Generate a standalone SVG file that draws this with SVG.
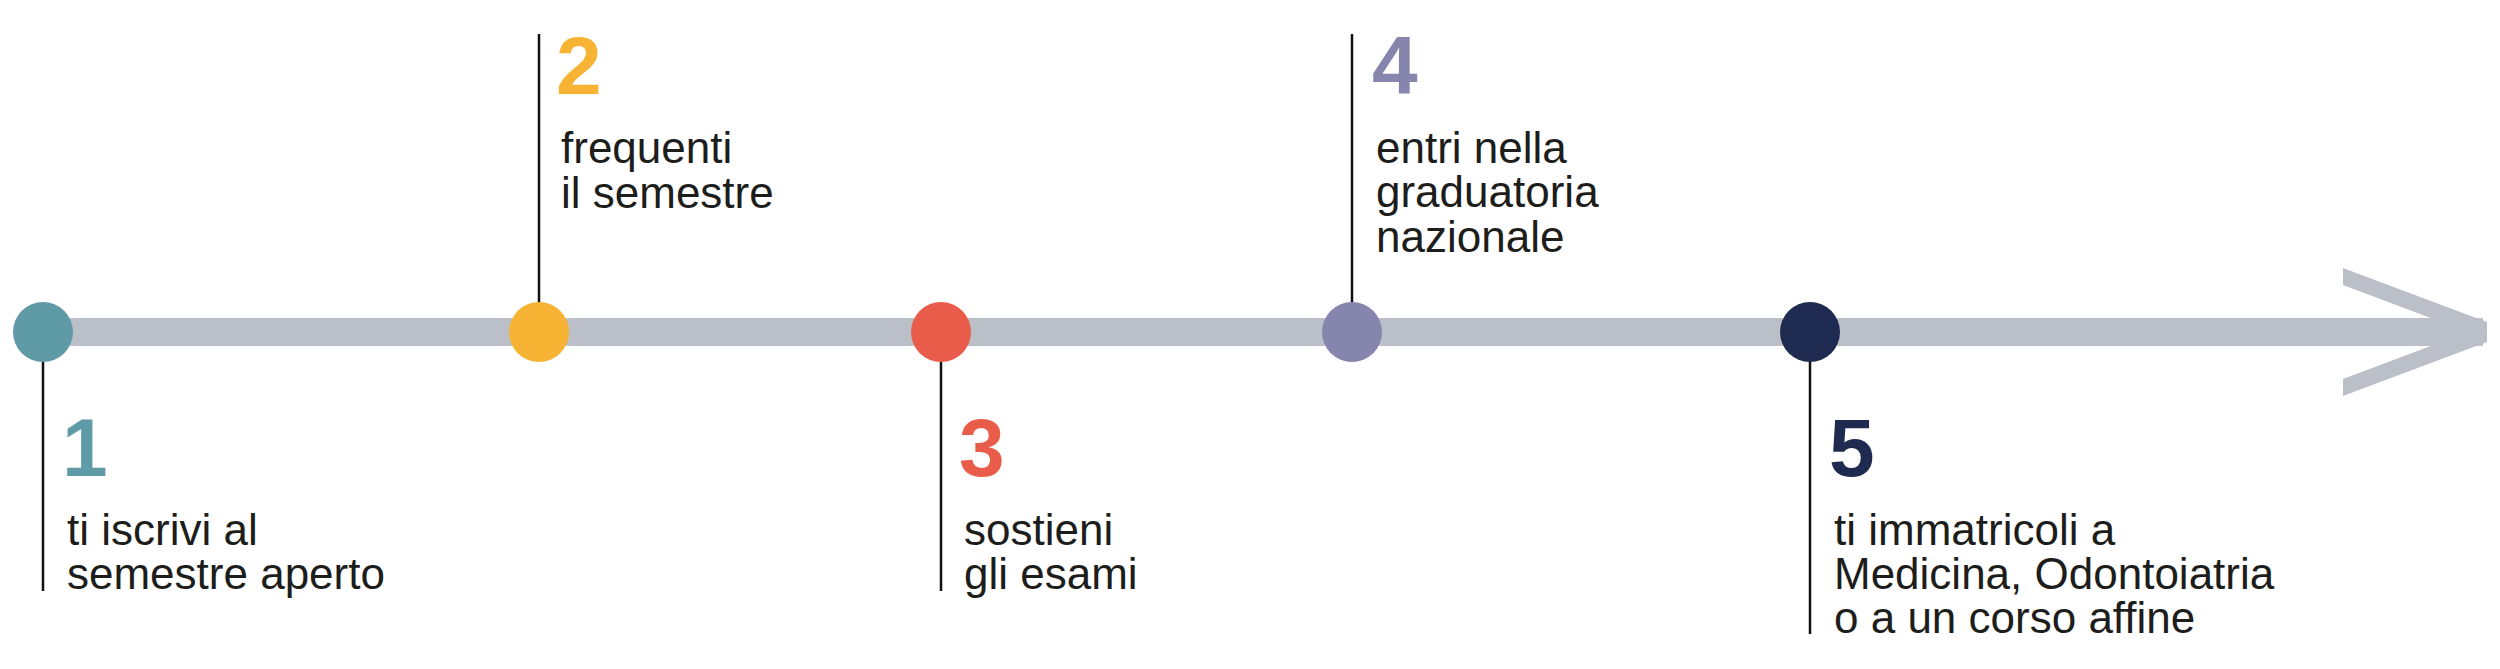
<svg xmlns="http://www.w3.org/2000/svg" width="2500" height="669" viewBox="0 0 2500 669">
<style>
.num{font-family:"Liberation Sans",Arial,sans-serif;font-weight:bold;font-size:82px}
.lbl{font-family:"Liberation Sans",Arial,sans-serif;font-size:44px;fill:#1d1d1b}
.pin{stroke:#111;stroke-width:2.5;fill:none}
.track{fill:#bbbfc8}
</style>
<rect width="2500" height="669" fill="#ffffff"/>
<g id="timeline">
<rect class="track" x="43" y="318" width="2440" height="28"/>
<polygon class="track" points="2343,268 2487,322 2487,342 2343,396 2343,379 2468,332 2343,285"/>
</g>
<g id="connectors">
<line class="pin" x1="43" y1="332" x2="43" y2="591"/>
<line class="pin" x1="539" y1="34" x2="539" y2="332"/>
<line class="pin" x1="941" y1="332" x2="941" y2="591"/>
<line class="pin" x1="1352" y1="34" x2="1352" y2="332"/>
<line class="pin" x1="1810" y1="332" x2="1810" y2="634"/>
</g>
<g id="step1">
<circle cx="43" cy="332" r="30" fill="#5f9ba6"/>
<text class="num" x="62" y="476" fill="#5f9ba6">1</text>
<text class="lbl" x="67" y="545">ti iscrivi al</text>
<text class="lbl" x="67" y="589">semestre aperto</text>
</g>
<g id="step2">
<circle cx="539" cy="332" r="30" fill="#f7b334"/>
<text class="num" x="556" y="94" fill="#f7b334">2</text>
<text class="lbl" x="561" y="163">frequenti</text>
<text class="lbl" x="561" y="208">il semestre</text>
</g>
<g id="step3">
<circle cx="941" cy="332" r="30" fill="#e95c4a"/>
<text class="num" x="959" y="476" fill="#e95c4a">3</text>
<text class="lbl" x="964" y="545">sostieni</text>
<text class="lbl" x="964" y="589">gli esami</text>
</g>
<g id="step4">
<circle cx="1352" cy="332" r="30" fill="#8585ae"/>
<text class="num" x="1372" y="93" fill="#8585ae">4</text>
<text class="lbl" x="1376" y="163">entri nella</text>
<text class="lbl" x="1376" y="207">graduatoria</text>
<text class="lbl" x="1376" y="252">nazionale</text>
</g>
<g id="step5">
<circle cx="1810" cy="332" r="30" fill="#1f2a50"/>
<text class="num" x="1829" y="476" fill="#1f2a50">5</text>
<text class="lbl" x="1834" y="545">ti immatricoli a</text>
<text class="lbl" x="1834" y="589">Medicina, Odontoiatria</text>
<text class="lbl" x="1834" y="633">o a un corso affine</text>
</g>
</svg>
